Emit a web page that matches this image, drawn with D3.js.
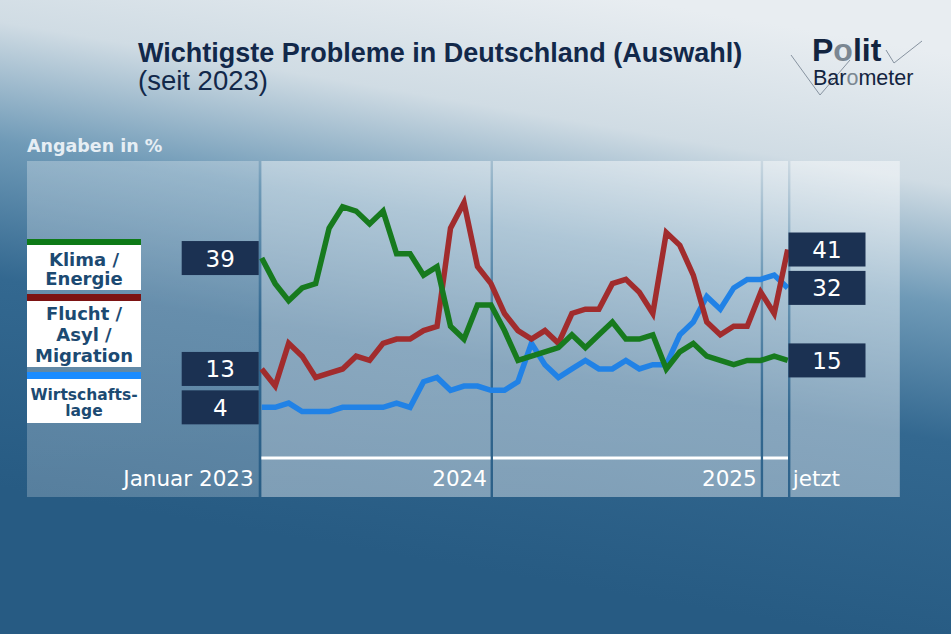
<!DOCTYPE html>
<html>
<head>
<meta charset="utf-8">
<script src="https://cdn.jsdelivr.net/npm/d3@7"></script>
<style>
  html, body { margin: 0; padding: 0; background: #285c84; }
  svg { display: block; }
</style>
</head>
<body>
<div id="chart"></div>
<script>
//begin: data
var surveyCount = 40;
var klima      = [39,33,29,32,33,46,51,50,47,50,40,40,35,37,23,20,28,28,22,15,16,17,18,21,18,21,24,20,20,21,13,17,19,16,15,14,15,15,16,15];
var flucht     = [13,9,19,16,11,12,13,16,15,19,20,20,22,23,46,52,37,33,26,22,20,22,19,26,27,27,33,34,31,26,45,42,35,24,21,23,23,31,26,41];
var wirtschaft = [4,4,5,3,3,3,4,4,4,4,5,4,10,11,8,9,9,8,8,10,19,14,11,13,15,13,13,15,13,14,14,21,24,30,27,32,34,34,35,32];
var tickLabels = ["Januar 2023", "2024", "2025", "jetzt"];
var tickIndex  = [0, 17, 37, 39];
//end: data

var W = 951, H = 634;

var series = [
  { name: ["Wirtschafts-", "lage"], values: wirtschaft, color: "#2182e6", bar: "#1b8cff" },
  { name: ["Flucht /", "Asyl /", "Migration"], values: flucht, color: "#a12c2d", bar: "#7c1313" },
  { name: ["Klima /", "Energie"], values: klima, color: "#177a1e", bar: "#0e7a17" }
];

var x = d3.scaleLinear().domain([0, surveyCount - 1]).range([261.7, 787.7]);
var y = d3.scaleLinear().domain([0, 55]).range([424.4, 189.8]);

var svg = d3.select("#chart").append("svg")
  .attr("width", W).attr("height", H);

var defs = svg.append("defs");

// background gradient
var bg = defs.append("linearGradient").attr("id", "bg")
  .attr("gradientUnits", "userSpaceOnUse")
  .attr("x1", 520).attr("y1", -20).attr("x2", 420).attr("y2", 560);
[[0, "#e8edf1"], [0.22, "#d0dce4"], [0.42, "#6f9ab7"], [0.65, "#336890"], [1, "#275b83"]]
  .forEach(function (s) { bg.append("stop").attr("offset", s[0]).attr("stop-color", s[1]); });

var mainPanel = defs.append("linearGradient").attr("id", "mainPanel")
  .attr("x1", 0).attr("y1", 0).attr("x2", 0).attr("y2", 1);
mainPanel.append("stop").attr("offset", 0).attr("stop-color", "#fff").attr("stop-opacity", 0.45);
mainPanel.append("stop").attr("offset", 1).attr("stop-color", "#fff").attr("stop-opacity", 0.40);

var sidePanel = defs.append("linearGradient").attr("id", "sidePanel")
  .attr("x1", 0).attr("y1", 0).attr("x2", 0).attr("y2", 1);
sidePanel.append("stop").attr("offset", 0).attr("stop-color", "#fff").attr("stop-opacity", 0.28);
sidePanel.append("stop").attr("offset", 1).attr("stop-color", "#fff").attr("stop-opacity", 0.22);

svg.append("rect").attr("width", W).attr("height", H).attr("fill", "url(#bg)");

// panels
var panelTop = 161, panelBottom = 497;
var edges = [x(tickIndex[0]) - 1.5, x(tickIndex[1]) + 0.8, x(tickIndex[2]) + 1.2, x(tickIndex[3]) + 1.5];

svg.append("rect").attr("x", 27).attr("y", panelTop)
  .attr("width", edges[0] - 1.5 - 27).attr("height", panelBottom - panelTop)
  .attr("fill", "url(#sidePanel)");

var panelX = [edges[0], edges[1], edges[2], edges[3]];
var panelEnd = [edges[1], edges[2], edges[3], 901];
panelX.forEach(function (px, i) {
  svg.append("rect")
    .attr("x", px + 1.2).attr("y", panelTop)
    .attr("width", panelEnd[i] - px - 2.4).attr("height", panelBottom - panelTop)
    .attr("fill", "url(#mainPanel)");
});

// baseline
var baseY = 458;
[0, 1, 2].forEach(function (i) {
  svg.append("line")
    .attr("x1", panelX[i] + 1.2).attr("x2", panelEnd[i] - 1.2)
    .attr("y1", baseY).attr("y2", baseY)
    .attr("stroke", "#fff").attr("stroke-width", 3);
});

// x labels
svg.append("g").selectAll("text")
  .data(tickLabels)
  .enter().append("text")
  .attr("x", function (d, i) {
    var xi = x(tickIndex[i]);
    if (i === 0) return xi - 8;
    if (i === tickLabels.length - 1) return xi + 5;
    return xi - 4;
  })
  .attr("y", 486)
  .attr("text-anchor", function (d, i) { return i === tickLabels.length - 1 ? "start" : "end"; })
  .style("font-family", "'DejaVu Sans', sans-serif")
  .style("font-size", "21.5px")
  .attr("fill", "#fff")
  .text(function (d) { return d; });

// lines
var line = d3.line()
  .x(function (d, i) { return x(i); })
  .y(function (d) { return y(d); });

svg.append("g").selectAll("path")
  .data(series)
  .enter().append("path")
  .attr("d", function (d) { return line(d.values); })
  .attr("fill", "none")
  .attr("stroke", function (d) { return d.color; })
  .attr("stroke-width", 5.5)
  .attr("stroke-linejoin", "miter");

// value boxes
var boxH = 34, boxW = 77;
function valueBox(v, left) {
  var cx = left ? x(0) - 80 + boxW / 2 : x(surveyCount - 1) + 0.8 + boxW / 2;
  var g = svg.append("g").attr("transform", "translate(" + [cx, y(v)] + ")");
  g.append("rect").attr("x", -boxW / 2).attr("y", -boxH / 2)
    .attr("width", boxW).attr("height", boxH).attr("fill", "#1b3152");
  g.append("text").attr("y", 8.5).attr("text-anchor", "middle")
    .style("font-family", "'DejaVu Sans', sans-serif").style("font-size", "23px")
    .attr("fill", "#fff").text(v);
}
series.forEach(function (s) {
  valueBox(s.values[0], true);
  valueBox(s.values[s.values.length - 1], false);
});

// legend
var legendBoxes = [
  { bar: 372, top: 379, bottom: 423, base: [399.5, 416], size: 15.5 },
  { bar: 294, top: 301, bottom: 367, base: [320, 341, 362], size: 18 },
  { bar: 239, top: 245, bottom: 290, base: [266, 285], size: 18 }
];
series.forEach(function (s, i) {
  var lb = legendBoxes[i];
  svg.append("rect").attr("x", 27).attr("y", lb.bar).attr("width", 114)
    .attr("height", lb.top - lb.bar).attr("fill", s.bar);
  svg.append("rect").attr("x", 27).attr("y", lb.top).attr("width", 114)
    .attr("height", lb.bottom - lb.top).attr("fill", "#fff");
  s.name.forEach(function (t, j) {
    svg.append("text").attr("x", 84).attr("y", lb.base[j])
      .attr("text-anchor", "middle")
      .style("font-family", "'DejaVu Sans', sans-serif")
      .style("font-weight", "bold").style("font-size", lb.size + "px")
      .attr("fill", "#1c4a72").text(t);
  });
});

// titles
svg.append("text").attr("x", 138).attr("y", 61.5)
  .style("font-family", "'Liberation Sans', Arial, sans-serif").style("font-weight", "bold")
  .style("font-size", "27px").attr("fill", "#12284a")
  .text("Wichtigste Probleme in Deutschland (Auswahl)");
svg.append("text").attr("x", 138).attr("y", 89.5)
  .style("font-family", "'Liberation Sans', Arial, sans-serif")
  .style("font-size", "27.5px").attr("fill", "#12284a")
  .text("(seit 2023)");
svg.append("text").attr("x", 27).attr("y", 152)
  .style("font-family", "'DejaVu Sans', sans-serif").style("font-weight", "bold")
  .style("font-size", "17.5px").attr("fill", "#e6eef4")
  .text("Angaben in %");

// logo
var logo = svg.append("g");
logo.append("polyline").attr("points", "791,55 820,95 850,60")
  .attr("fill", "none").attr("stroke", "#8793a0").attr("stroke-width", 1);
logo.append("polyline").attr("points", "886,50 894,63 922,41")
  .attr("fill", "none").attr("stroke", "#8793a0").attr("stroke-width", 1);
var polit = logo.append("text").attr("x", 812).attr("y", 60.5)
  .style("font-family", "'Liberation Sans', Arial, sans-serif").style("font-weight", "bold")
  .style("font-size", "32px").attr("fill", "#13243f");
polit.append("tspan").text("P");
polit.append("tspan").attr("fill", "#7b8792").text("o");
polit.append("tspan").text("lit");
var baro = logo.append("text").attr("x", 813).attr("y", 84.5)
  .style("font-family", "'Liberation Sans', Arial, sans-serif")
  .style("font-size", "21.5px").attr("fill", "#13243f");
baro.append("tspan").text("Bar");
baro.append("tspan").attr("fill", "#7b8792").text("o");
baro.append("tspan").text("meter");
</script>
</body>
</html>
